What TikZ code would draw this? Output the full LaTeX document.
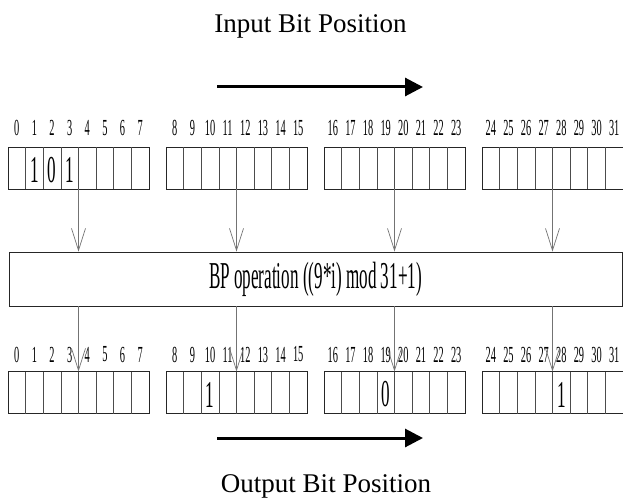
\documentclass[tikz,border=0pt]{standalone}
\usepackage{fontspec}
\setmainfont{Liberation Serif}
\usepackage{graphicx}
\usetikzlibrary{arrows.meta,calc}
% horizontally condensed text
\newcommand{\sqz}[1]{\scalebox{0.45}[1]{#1}}

\begin{document}
\begin{tikzpicture}[x=1pt,y=-1pt,
  regbox/.style={draw=black!85, line width=0.9pt, minimum width=141pt,
    minimum height=42pt, inner sep=0pt, outer sep=0pt},
  cellline/.style={draw=black!70, line width=0.7pt},
  feed/.style={draw=black!55, line width=0.7pt,
    -{Straight Barb[length=22pt,width=14pt]}},
  bitlabel/.style={font=\fontsize{23}{23}\selectfont, inner sep=0pt},
  bitval/.style={font=\fontsize{38}{38}\selectfont, inner sep=0pt},
  opbox/.style={draw=black!85, line width=0.9pt, minimum width=613pt,
    minimum height=54pt, inner sep=0pt, font=\fontsize{38}{38}\selectfont},
  flow/.style={line width=3pt, -{Triangle[length=18pt,width=18pt]}},
  caption/.style={font=\fontsize{27}{27}\selectfont, inner sep=0pt, anchor=base}]
\useasboundingbox (0,0) rectangle (623,500);

% titles and direction arrows
\node[caption] (intitle) at (310.5,33) {Input Bit Position};
\node[caption] (outtitle) at (326,492) {Output Bit Position};
\coordinate (ina) at (217,87);
\coordinate (inb) at (423,87);
\draw[flow] (ina) -- (inb);
\coordinate (outa) at (217,438);
\coordinate (outb) at (423,438);
\draw[flow] (outa) -- (outb);

% permutation stage
\node[opbox] (bp) at (315.5,279) {\sqz{BP operation ((9*i) mod 31+1)}};

% input and output registers, 4 bytes each
\foreach \b in {0,...,3}{
  \node[regbox] (in\b) at ({8+158*\b+70.5},168) {};
  \node[regbox] (out\b) at ({8+158*\b+70.5},392.5) {};
  \foreach \k in {1,...,7}{
    \draw[cellline] ($(in\b.north west)+(\k*17.625,0)$) -- ($(in\b.south west)+(\k*17.625,0)$);
    \draw[cellline] ($(out\b.north west)+(\k*17.625,0)$) -- ($(out\b.south west)+(\k*17.625,0)$);
  }
  \foreach \k in {0,...,7}{
    \pgfmathtruncatemacro\idx{8*\b+\k}
    \node[bitlabel] (il\idx) at ($(in\b.north west)+({(\k+0.5)*17.625},-19)$) {\sqz{\idx}};
    \node[bitlabel] (ol\idx) at ($(out\b.north west)+({(\k+0.5)*17.625},-17)$) {\sqz{\idx}};
  }
  \coordinate (src\b) at ($(in\b.south west)+(70.5,0)$);
  \draw[feed] (src\b) -- (src\b |- bp.north);
  \coordinate (dst\b) at ($(out\b.north west)+(70.5,0)$);
  \draw[feed] (dst\b |- bp.south) -- (dst\b);
}

% bit values
\node[bitval] (iv1) at ($(in0.west)+(1.5*17.625,2)$) {\sqz{1}};
\node[bitval] (iv2) at ($(in0.west)+(2.5*17.625,2)$) {\sqz{0}};
\node[bitval] (iv3) at ($(in0.west)+(3.5*17.625,2)$) {\sqz{1}};
\node[bitval] (ov10) at ($(out1.west)+(2.5*17.625,2)$) {\sqz{1}};
\node[bitval] (ov19) at ($(out2.west)+(3.5*17.625,2)$) {\sqz{0}};
\node[bitval] (ov28) at ($(out3.west)+(4.5*17.625,2)$) {\sqz{1}};
\end{tikzpicture}
\end{document}
